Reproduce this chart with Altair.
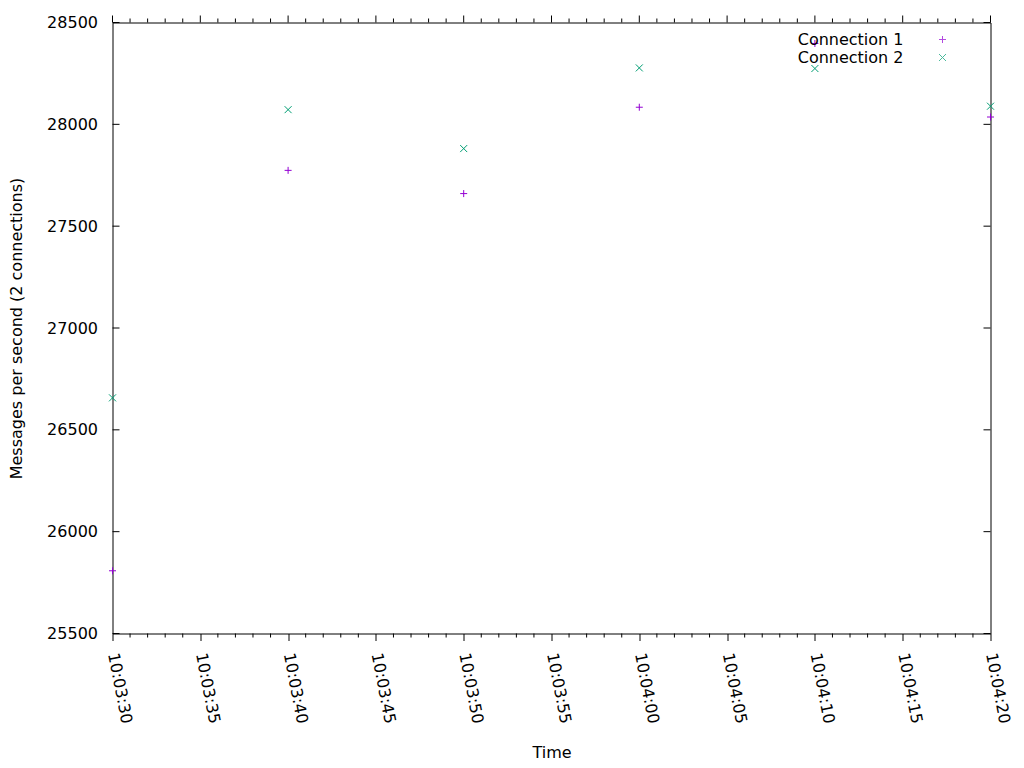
import altair as alt
import pandas as pd

# values (gnuplot scatter, 2 series)
times = ["10:03:30", "10:03:40", "10:03:50", "10:04:00", "10:04:10", "10:04:20"]
connection_1 = [25808, 27774, 27660, 28084, 28397, 28036]
connection_2 = [26657, 28072, 27881, 28277, 28274, 28089]
series_names = ["Connection 1", "Connection 2"]
series_colors = ["#9400d3", "#009e73"]

x_major = ["10:03:30", "10:03:35", "10:03:40", "10:03:45", "10:03:50", "10:03:55",
           "10:04:00", "10:04:05", "10:04:10", "10:04:15", "10:04:20"]
y_ticks = [25500, 26000, 26500, 27000, 27500, 28000, 28500]

DAY = "2020-01-01 "
FONT = "DejaVu Sans"
FS = 16
W, H = 878, 611
PLUS = "M-1,0L1,0M0,-1L0,1"
CROSS = "M-1,-1L1,1M-1,1L1,-1"


def to_dt(t):
    h, m, s = (int(p) for p in t.split(":"))
    return alt.DateTime(year=2020, month=1, date=1, hours=h, minutes=m, seconds=s)


points = pd.DataFrame({
    "time": pd.to_datetime([DAY + t for t in times] * 2),
    "value": connection_1 + connection_2,
    "series": [series_names[0]] * len(times) + [series_names[1]] * len(times),
})
# copy of the series column, only used for the text half of the key
points["label"] = points["series"]

major_df = pd.DataFrame({"time": pd.to_datetime([DAY + t for t in x_major])})
all_secs = pd.date_range(DAY + x_major[0], DAY + x_major[-1], freq="1s")
minor_df = pd.DataFrame({"time": [t for t in all_secs if t not in set(major_df["time"])]})
ytick_df = pd.DataFrame({"value": y_ticks})

x_scale = alt.Scale(domain=[to_dt(x_major[0]), to_dt(x_major[-1])])
y_scale = alt.Scale(domain=[y_ticks[0], y_ticks[-1]], nice=False, zero=False)

# gnuplot key: text right-aligned, sample symbol to the right of it.
# Vega puts symbols left of labels, so the key is split in two legends.
key_common = dict(
    title=None,
    orient="none",
    legendY=9,
    padding=0,
    labelFont=FONT,
    labelFontSize=FS,
    labelColor="black",
    symbolSize=49,
    symbolStrokeWidth=1,
    rowPadding=2,
)
symbol_key = alt.Legend(legendX=822, labelExpr="''", **key_common)
text_key = alt.Legend(
    legendX=771,
    labelAlign="right",
    symbolOpacity=0,
    symbolStrokeColor="transparent",
    symbolFillColor="transparent",
    **key_common,
)

scatter = alt.Chart(points).mark_point(filled=False, size=49, strokeWidth=1).encode(
    x=alt.X(
        "time:T",
        scale=x_scale,
        axis=alt.Axis(
            title="Time",
            values=[to_dt(t) for t in x_major],
            format="%H:%M:%S",
            labelAngle=79,
            labelPadding=12,
            tickSize=7,
            grid=False,
            domain=False,
            titlePadding=20,
        ),
    ),
    y=alt.Y(
        "value:Q",
        scale=y_scale,
        axis=alt.Axis(
            title="Messages per second (2 connections)",
            values=y_ticks,
            format="d",
            ticks=False,
            grid=False,
            domain=False,
            labelPadding=15,
            titlePadding=22,
        ),
    ),
    color=alt.Color("series:N", scale=alt.Scale(domain=series_names, range=series_colors), legend=symbol_key),
    shape=alt.Shape("series:N", scale=alt.Scale(domain=series_names, range=[PLUS, CROSS]), legend=symbol_key),
    opacity=alt.Opacity("label:N", scale=alt.Scale(range=[1, 1]), legend=text_key),
)

# gnuplot-style tics: y tics point inward on both sides, x tics are mirrored on top with minor tics
tick = dict(color="black", strokeWidth=1)
left_tics = alt.Chart(ytick_df).mark_rule(**tick).encode(y="value:Q", x=alt.value(0), x2=alt.value(7))
right_tics = alt.Chart(ytick_df).mark_rule(**tick).encode(y="value:Q", x=alt.value(W), x2=alt.value(W - 7))
top_major = alt.Chart(major_df).mark_rule(**tick).encode(x="time:T", y=alt.value(0), y2=alt.value(-7))
top_minor = alt.Chart(minor_df).mark_rule(**tick).encode(x="time:T", y=alt.value(0), y2=alt.value(-4))
bottom_minor = alt.Chart(minor_df).mark_rule(**tick).encode(x="time:T", y=alt.value(H), y2=alt.value(H + 4))

chart = (
    alt.layer(left_tics, right_tics, top_major, top_minor, bottom_minor, scatter)
    .properties(
        width=W,
        height=H,
        autosize="none",
        padding={"left": 104.5, "top": 14.5, "right": 25, "bottom": 130},
    )
    .configure(font=FONT)
    .configure_view(stroke="black", strokeWidth=1)
    .configure_axis(
        labelFont=FONT,
        labelFontSize=FS,
        labelColor="black",
        titleFont=FONT,
        titleFontSize=FS,
        titleFontWeight="normal",
        titleColor="black",
        tickColor="black",
    )
)

chart.save("out.html", embed_options={"renderer": "svg", "actions": False})
